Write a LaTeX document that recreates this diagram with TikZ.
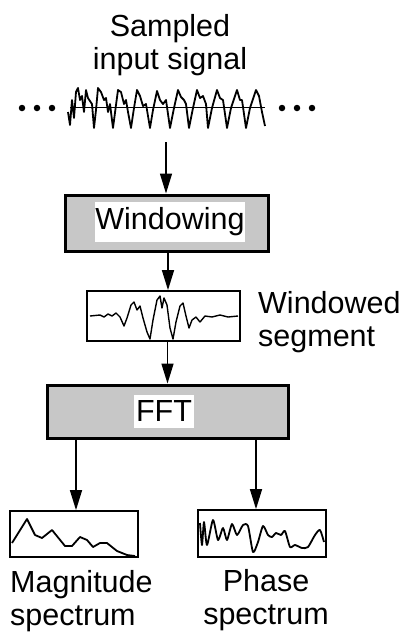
\documentclass[tikz,border=0pt]{standalone}
\usepackage{fontspec}
\setmainfont{Liberation Sans}
\usetikzlibrary{arrows.meta,calc}
\definecolor{boxgray}{rgb}{0.78,0.78,0.78}
\tikzset{
  lbl/.style={font=\fontsize{30.5}{33.5}\selectfont, inner sep=0pt},
  bigbox/.style={draw, line width=3pt, fill=boxgray, inner sep=0pt},
  whitelbl/.style={fill=white, font=\fontsize{30.5}{33.5}\selectfont, inner sep=0pt},
  plotbox/.style={draw, line width=1.8pt, inner sep=0pt},
  arr/.style={line width=1.5pt, -{Triangle[length=20pt,width=12pt]}},
  sig/.style={line width=1.8pt, line join=round},
  dotc/.style={fill, circle, inner sep=0pt, minimum size=6.5pt}
}
\begin{document}
\begin{tikzpicture}[x=1pt,y=-1pt]
\useasboundingbox (0,0) rectangle (400,633);
% title
\node[lbl, align=center] (title) at (170,45) {Sampled\\input signal};
% dots
\node[dotc] (d1) at (22,108) {};
\node[dotc] (d2) at (37,108) {};
\node[dotc] (d3) at (52,108) {};
\node[dotc] (d4) at (282,108) {};
\node[dotc] (d5) at (297,108) {};
\node[dotc] (d6) at (312,108) {};
% input signal
\draw[line width=1pt] (70,107) -- (265,107);
\draw[sig] plot coordinates {(68,112) (70,125) (72,100) (74,118) (76,92) (78,88) (80,100) (82,96) (84,112) (86,90) (88,98) (92,104) (94,128) (96,110) (98,88) (101,92) (104,100) (106,98) (108,112) (110,104) (113,128) (116,105) (118,90) (121,92) (124,104) (126,100) (128,112) (131,128) (134,108) (137,90) (140,96) (143,106) (146,104) (150,128) (153,110) (157,91) (160,100) (163,104) (166,100) (170,128) (174,108) (178,90) (181,97) (184,100) (186,104) (189,128) (193,108) (197,90) (200,98) (203,96) (206,104) (208,128) (212,108) (217,90) (220,98) (223,100) (227,128) (231,108) (237,90) (240,100) (242,100) (246,128) (250,108) (256,90) (259,96) (262,112) (265,126)};
\coordinate (in) at (166,142);
% windowing
\node[bigbox, minimum width=203pt, minimum height=56pt] (win) at (166.5,223) {};
\node[whitelbl, minimum width=150pt, minimum height=40pt] (winlbl) at (170,222) {Windowing};
% windowed segment
\node[plotbox, minimum width=153pt, minimum height=50pt] (seg) at (163.5,316) {};
\draw[sig, line width=1.4pt] plot coordinates {(90,316) (100,315) (104,317) (108,314) (112,316) (116,313) (120,317) (124,326) (127,318) (131,305) (134,302) (137,310) (140,306) (143,318) (147,332) (150,339) (153,320) (157,300) (160,296) (162,308) (164,298) (167,305) (170,328) (173,339) (176,322) (180,306) (183,303) (186,316) (189,328) (192,320) (196,317) (200,322) (205,316) (212,317) (220,315) (228,317) (238,316)};
\node[lbl, align=left, anchor=west] (segtxt) at (258,322) {Windowed\\segment};
% FFT
\node[bigbox, minimum width=241pt, minimum height=53pt] (fft) at (167.5,411.5) {};
\node[whitelbl, minimum width=60pt, minimum height=33pt] (fftlbl) at (164,411.5) {FFT};
% magnitude
\node[plotbox, minimum width=128pt, minimum height=46pt] (mag) at (74,534) {};
\draw[sig] plot coordinates {(12,543) (27,519) (35,535) (42,538) (52,530) (65,546) (72,546) (80,537) (87,540) (93,547) (100,543) (107,543) (117,551) (127,555) (135,556)};
\node[lbl, align=left, anchor=west] (magtxt) at (10,601) {Magnitude\\spectrum};
% phase
\node[plotbox, minimum width=128pt, minimum height=47pt] (ph) at (262,533.5) {};
\draw[sig] plot[smooth, tension=0.4] coordinates {(200,523) (202,545) (204,522) (207,545) (213,520) (218,540) (223,528) (227,540) (232,524) (237,535) (243,525) (248,526) (253,552) (258,542) (263,526) (268,535) (272,537) (276,533) (281,535) (285,531) (290,547) (295,545) (302,548) (308,547) (315,535) (320,530) (324,542)};
\node[lbl, align=center] (phtxt) at (266,600) {Phase\\spectrum};
% arrows
\draw[arr] (in) -- (in |- win.north);
\draw[arr] ([xshift=1.5]win.south) -- ([xshift=1.5]win.south |- seg.north);
\draw[arr] (seg.south -| fft.north) -- (fft.north);
\draw[arr] ([xshift=2]fft.south -| mag.north) -- ([xshift=2]mag.north);
\draw[arr] ([xshift=-6]fft.south -| ph.north) -- ([xshift=-6]ph.north);
\end{tikzpicture}
\end{document}
